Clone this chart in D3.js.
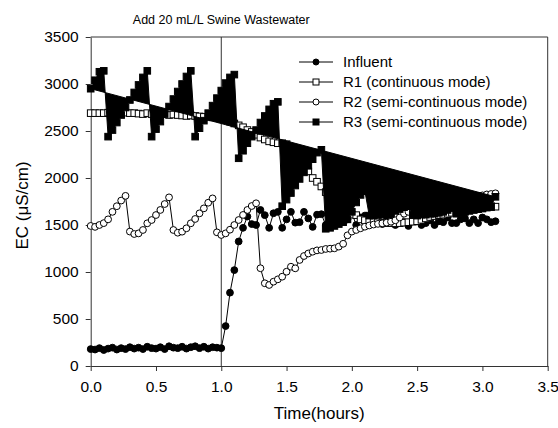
<!DOCTYPE html>
<html>
<head>
<meta charset="utf-8">
<script src="https://cdn.jsdelivr.net/npm/d3@7"></script>
<style>
  body { margin: 0; background: #fff; }
  text { font-family: "Liberation Sans", Arial, sans-serif; fill: #000; }
  .axis path, .axis line { stroke: #333; }
</style>
</head>
<body>
<div id="chart"></div>
<script>
// Sample times (minutes) and EC readings (uS/cm)
const minutes = [0,2,4,6,8,10,12,14,16,18,20,22,24,26,28,30,32,34,36,38,40,42,44,46,48,50,52,54,56,58,
  60,62,64,66,68,70,72,74,76,78,80,82,84,86,88,90,92,94,96,98,100,102,104,106,108,110,112,114,116,118,
  120,122,124,126,128,130,132,134,136,138,140,142,144,146,148,150,152,154,156,158,160,162,164,166,168,170,
  172,174,176,178,180,182,184,186]

const influent = [180,175,190,170,185,195,175,190,180,200,185,195,180,205,190,185,200,180,210,195,
  190,205,185,200,210,190,205,185,200,195,190,
  425,780,1020,1325,1470,1590,1510,1500,1660,1605,
  1470,1625,1640,1470,1560,1640,1525,1530,1640,1570,
  1480,1610,1615,1500,1590,1640,1520,1600,1560,1630,
  1500,1580,1600,1540,1560,1620,1510,1550,1580,1500,
  1560,1530,1490,1540,1560,1500,1520,1550,1500,1540,
  1530,1580,1520,1520,1560,1570,1520,1560,1520,1580,
  1560,1530,1540]

const r1 = [2690,2690,2690,2690,2695,2690,2685,2690,2695,2690,
  2690,2685,2680,2690,2680,2675,2680,2680,2670,2675,
  2670,2665,2660,2665,2660,2655,2650,2650,2645,2640,
  2630,
  2620,2600,2580,2560,2540,2510,2490,2460,2430,2410,
  2390,2380,2370,2370,2360,2330,2280,2220,2150,2070,
  2000,1960,1910,1850,1800,1750,1700,1660,1630,1610,
  1605,1560,1550,1540,1535,1530,1525,1520,1520,1518,
  1520,1525,1530,1535,1540,1555,1570,1585,1595,1605,
  1610,1620,1630,1640,1645,1650,1660,1665,1670,1675,
  1685,1690,1695]

const r2 = [1490,1480,1500,1520,1560,1640,1700,1760,1810,1430,
  1404,1411,1447,1518,1553,1606,1660,1723,1794,1447,
  1418,1429,1465,1518,1564,1624,1677,1737,1783,1422,
  1394,
  1411,1450,1500,1553,1607,1660,1702,1731,1040,880,
  862,897,922,950,1003,1056,1039,1128,1170,1197,
  1216,1230,1234,1245,1248,1252,1270,1300,1390,1430,
  1447,1465,1482,1495,1505,1512,1518,1525,1535,1550,
  1580,1620,1640,1650,1660,1670,1680,1690,1700,1710,
  1720,1730,1740,1750,1760,1770,1780,1795,1810,1815,
  1825,1830,1837]

const r3 = [2950,3040,3130,3140,2440,2510,2590,2670,2750,2830,
  2910,2990,3070,3140,2440,2520,2600,2680,2760,2840,
  2920,3000,3080,3140,2440,2530,2610,2690,2770,2850,
  2930,
  3010,3070,3100,2210,2290,2370,2440,2510,2590,2660,
  2730,2790,2810,1700,1770,1840,1920,1990,2060,2130,
  2200,2270,2300,1460,1470,1490,1510,1530,1560,1640,
  1740,1820,1860,1600,1600,1610,1610,1620,1630,1650,
  1670,1690,1700,1610,1600,1610,1610,1620,1620,1630,
  1640,1660,1680,1620,1630,1640,1650,1660,1670,1680,
  1690,1700,1800]

const xTicks = [0, 0.5, 1, 1.5, 2, 2.5, 3, 3.5]
const yTicks = [0, 500, 1000, 1500, 2000, 2500, 3000, 3500]
const legendLabels = ["Influent", "R1 (continuous mode)", "R2 (semi-continuous mode)", "R3 (semi-continuous mode)"]
const eventTime = 1.0

// ----------------------------------------------------------

const width = 558
const height = 428
const margin = {top: 37, bottom: 62, left: 90.7, right: 10.3}
const innerW = width - margin.left - margin.right
const innerH = height - margin.top - margin.bottom

const svg = d3.select("div#chart").append("svg")
    .attr("width", width)
    .attr("height", height)

const scaleX = d3.scaleLinear().domain([0, 3.5]).range([0, innerW])
const scaleY = d3.scaleLinear().domain([0, 3500]).range([innerH, 0])

const plot = svg.append("g").attr("transform", `translate(${margin.left} ${margin.top})`)

// Build one record per sample
const rows = minutes.map((m, i) => ({
    t: m / 60, influent: influent[i], r1: r1[i], r2: r2[i], r3: r3[i]
}))

// Ejes
const xAxis = d3.axisBottom(scaleX).tickValues(xTicks).tickFormat(d3.format(".1f"))
    .tickSizeInner(5).tickSizeOuter(0).tickPadding(10)
const yAxis = d3.axisLeft(scaleY).tickValues(yTicks).tickFormat(d3.format("d"))
    .tickSizeInner(5).tickSizeOuter(0).tickPadding(7)

plot.append("g").attr("class", "axis").attr("transform", `translate(0 ${innerH})`).call(xAxis)
    .selectAll("text").style("font-size", "15.5px")
plot.append("g").attr("class", "axis").call(yAxis)
    .selectAll("text").style("font-size", "15.5px")

// Frame top and right
plot.append("line").attr("x1", 0).attr("x2", innerW).attr("y1", 0).attr("y2", 0).attr("stroke", "#333")
plot.append("line").attr("x1", innerW).attr("x2", innerW).attr("y1", 0).attr("y2", innerH).attr("stroke", "#333")

// Marker of the wastewater addition
plot.append("line")
    .attr("x1", scaleX(eventTime)).attr("x2", scaleX(eventTime))
    .attr("y1", 0).attr("y2", innerH)
    .attr("stroke", "#333")

svg.append("text").text("Add 20 mL/L Swine Wastewater")
    .attr("x", margin.left + scaleX(eventTime)).attr("y", 24)
    .attr("text-anchor", "middle").style("font-size", "12.5px")

// Series
const lineOf = key => d3.line().x(d => scaleX(d.t)).y(d => scaleY(d[key]))

function drawCircles(key, fill) {
    plot.append("path").datum(rows).attr("d", lineOf(key))
        .attr("fill", "none").attr("stroke", "#000").attr("stroke-width", 1)
    plot.append("g").selectAll("circle").data(rows).join("circle")
        .attr("cx", d => scaleX(d.t)).attr("cy", d => scaleY(d[key]))
        .attr("r", 3.4).attr("fill", fill).attr("stroke", "#000").attr("stroke-width", 1)
}

function drawSquares(key, fill, closed) {
    plot.append("path").datum(rows).attr("d", lineOf(key)(rows) + (closed ? "Z" : ""))
        .attr("fill", closed ? "#000" : "none").attr("stroke", "#000").attr("stroke-width", 1)
    plot.append("g").selectAll("rect").data(rows).join("rect")
        .attr("x", d => scaleX(d.t) - 3.3).attr("y", d => scaleY(d[key]) - 3.3)
        .attr("width", 6.6).attr("height", 6.6)
        .attr("fill", fill).attr("stroke", "#000").attr("stroke-width", 1)
}

drawCircles("influent", "#000")
drawSquares("r1", "#fff", false)
drawCircles("r2", "#fff")
drawSquares("r3", "#000", true)

// Leyenda
const legend = svg.append("g").attr("transform", "translate(299 62)")
legendLabels.forEach((label, i) => {
    const g = legend.append("g").attr("transform", `translate(0 ${i * 20})`)
    g.append("line").attr("x1", 0).attr("x2", 34).attr("stroke", "#000")
    if (i === 0 || i === 2) {
        g.append("circle").attr("cx", 17).attr("r", 3)
            .attr("fill", i === 0 ? "#000" : "#fff").attr("stroke", "#000")
    } else {
        g.append("rect").attr("x", 14).attr("y", -3).attr("width", 6).attr("height", 6)
            .attr("fill", i === 1 ? "#fff" : "#000").attr("stroke", "#000")
    }
    g.append("text").text(label).attr("x", 44).attr("dy", "0.35em").style("font-size", "15px")
})

// Axis titles
svg.append("text").text("Time(hours)")
    .attr("x", margin.left + innerW / 2).attr("y", 419)
    .attr("text-anchor", "middle").style("font-size", "17px")

svg.append("text").text("EC (\u03BCS/cm)")
    .attr("transform", `translate(28 ${margin.top + innerH / 2 + 4}) rotate(-90)`)
    .attr("text-anchor", "middle").style("font-size", "17px")
</script>
</body>
</html>
